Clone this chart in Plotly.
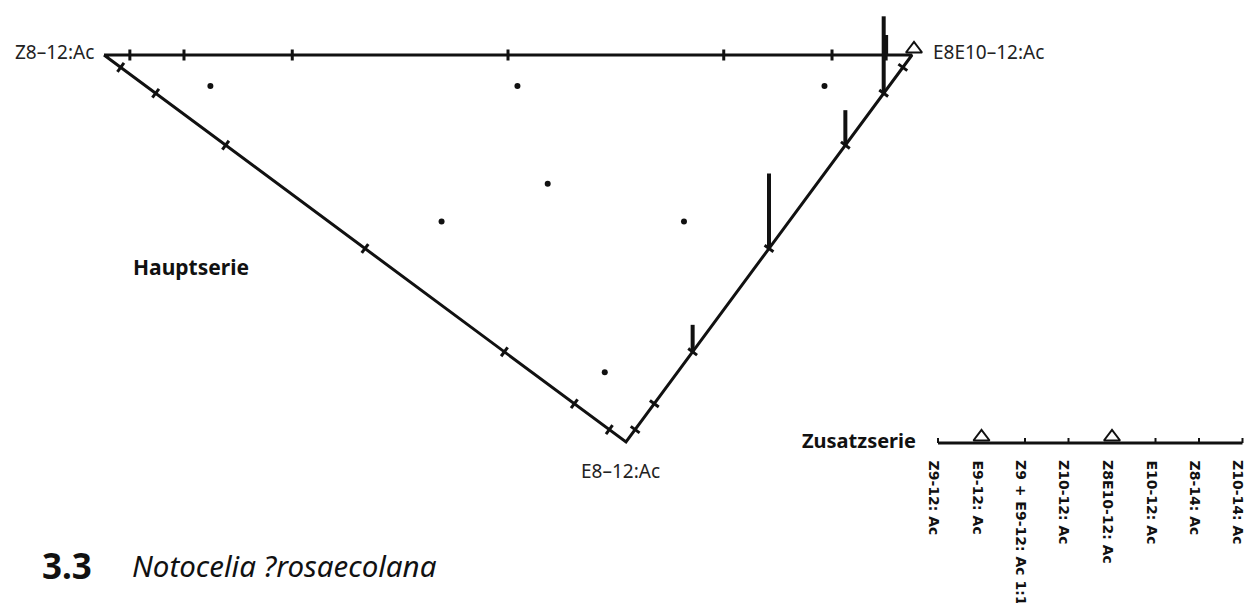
import plotly.graph_objects as go
import numpy as np

# ---------------- data ----------------
VERTEX_LABELS = ["Z8–12:Ac", "E8E10–12:Ac", "E8–12:Ac"]
# tick positions along every edge (fraction of edge length)
EDGE_TICKS = [0.032, 0.099, 0.233, 0.50, 0.767, 0.901, 0.968]
# test blends of the main series: shares of (Z8-12, E8E10-12, E8-12)
BLEND_A = [0.84, 0.46, 0.08, 0.333, 0.43, 0.13, 0.09]
BLEND_B = [0.08, 0.46, 0.84, 0.334, 0.14, 0.44, 0.09]
BLEND_C = [0.08, 0.08, 0.08, 0.333, 0.43, 0.43, 0.82]
# catch bars: edge, position along edge, catch value
BAR_EDGE = ["CB", "CB", "CB", "CB", "AB"]
BAR_POS = [0.233, 0.50, 0.767, 0.901, 0.968]
BAR_VALUE = [27, 75, 35, 77, 20]
# catches at pure vertex E8E10-12 (triangle)
VERTEX_HIT = [False, True, False]
# additional series
ZUS_LABELS = ["Z9-12: Ac", "E9-12: Ac", "Z9 + E9-12: Ac 1:1", "Z10-12: Ac",
              "Z8E10-12: Ac", "E10-12: Ac", "Z8-14: Ac", "Z10-14: Ac"]
ZUS_HIT = [False, True, False, False, True, False, False, False]

# ---------------- layout geometry (pixel-like data space) ----------------
VA = np.array([104.0, 55.0])
VB = np.array([912.0, 55.0])
VC = np.array([626.0, 442.0])
VERT = {"A": VA, "B": VB, "C": VC}
TICK_HALF = 5.5
BAR_SCALE = 1.0
ZUS_Y = 443.0
ZUS_X0 = 938.0
ZUS_STEP = 43.5

BLACK = "#111111"
fig = go.Figure()


def edge_pts(p, q, t):
    return p + (q - p) * t


# triangle outline
tri = np.array([VA, VB, VC, VA])
fig.add_trace(go.Scatter(x=tri[:, 0], y=tri[:, 1], mode="lines",
                         line=dict(color=BLACK, width=3), hoverinfo="skip",
                         showlegend=False))

# ticks on edges
tx, ty = [], []
for p, q in [(VA, VB), (VA, VC), (VC, VB)]:
    d = (q - p) / np.linalg.norm(q - p)
    n = np.array([-d[1], d[0]])
    for t in EDGE_TICKS:
        c = edge_pts(p, q, t)
        a = c - n * TICK_HALF
        b = c + n * TICK_HALF
        tx += [a[0], b[0], None]
        ty += [a[1], b[1], None]
fig.add_trace(go.Scatter(x=tx, y=ty, mode="lines",
                         line=dict(color=BLACK, width=3), hoverinfo="skip",
                         showlegend=False))

# blend dots
pts = (np.outer(BLEND_A, VA) + np.outer(BLEND_B, VB) + np.outer(BLEND_C, VC)) / \
      (np.array(BLEND_A) + np.array(BLEND_B) + np.array(BLEND_C))[:, None]
fig.add_trace(go.Scatter(x=pts[:, 0], y=pts[:, 1], mode="markers",
                         marker=dict(color=BLACK, size=6), showlegend=False))

# catch bars
bx, by = [], []
for e, t, v in zip(BAR_EDGE, BAR_POS, BAR_VALUE):
    p, q = VERT[e[0]], VERT[e[1]]
    c = edge_pts(p, q, t)
    bx += [c[0], c[0], None]
    by += [c[1], c[1] - v * BAR_SCALE, None]
fig.add_trace(go.Scatter(x=bx, y=by, mode="lines",
                         line=dict(color=BLACK, width=4), hoverinfo="skip",
                         showlegend=False))

# vertex triangle markers
vx = [v[0] + 2 for v, h in zip([VA, VB, VC], VERTEX_HIT) if h]
vy = [v[1] - 6 for v, h in zip([VA, VB, VC], VERTEX_HIT) if h]
fig.add_trace(go.Scatter(x=vx, y=vy, mode="markers",
                         marker=dict(symbol="triangle-up-open", size=14,
                                     color=BLACK,
                                     line=dict(color=BLACK, width=2)),
                         showlegend=False))

# additional series axis
zx = [ZUS_X0 + ZUS_STEP * i for i in range(len(ZUS_LABELS))]
fig.add_trace(go.Scatter(x=[zx[0], zx[-1]], y=[ZUS_Y, ZUS_Y], mode="lines",
                         line=dict(color=BLACK, width=3), showlegend=False,
                         hoverinfo="skip"))
kx, ky = [], []
for x, h in zip(zx, ZUS_HIT):
    if not h:
        kx += [x, x, None]
        ky += [ZUS_Y, ZUS_Y - 5, None]
fig.add_trace(go.Scatter(x=kx, y=ky, mode="lines",
                         line=dict(color=BLACK, width=2), showlegend=False,
                         hoverinfo="skip"))
fig.add_trace(go.Scatter(x=[x for x, h in zip(zx, ZUS_HIT) if h],
                         y=[ZUS_Y - 6 for h in ZUS_HIT if h], mode="markers",
                         marker=dict(symbol="triangle-up-open", size=14,
                                     color=BLACK,
                                     line=dict(color=BLACK, width=2)),
                         showlegend=False))

ann = []
for x, lab in zip(zx, ZUS_LABELS):
    ann.append(dict(x=x, y=458, xref="x", yref="y", text=lab, showarrow=False,
                    textangle=90, xanchor="center", yanchor="top", xshift=-4,
                    font=dict(family="DejaVu Sans", size=14, color=BLACK,
                              weight="bold")))

REG = dict(family="Noto Sans", size=19, color="#222222")
ann += [
    dict(x=VA[0] - 8, y=VA[1] - 3, text=VERTEX_LABELS[0], xanchor="right",
         yanchor="middle", font=REG),
    dict(x=VB[0] + 19, y=VB[1] - 3, text=VERTEX_LABELS[1], xanchor="left",
         yanchor="middle", font=REG),
    dict(x=VC[0] - 6, y=VC[1] + 29, text=VERTEX_LABELS[2], xanchor="center",
         yanchor="middle", font=REG),
    dict(x=131, y=267, text="<b>Hauptserie</b>", xanchor="left",
         yanchor="middle", font=dict(family="Noto Sans", size=21, color=BLACK)),
    dict(x=800, y=440, text="<b>Zusatzserie</b>", xanchor="left",
         yanchor="middle", font=dict(family="Noto Sans", size=20, color=BLACK)),
    dict(x=40, y=565, text="<b>3.3</b>", xanchor="left", yanchor="middle",
         font=dict(family="Noto Sans", size=35, color=BLACK)),
    dict(x=130, y=565, text="<i>Notocelia ?rosaecolana</i>", xanchor="left",
         yanchor="middle", font=dict(family="Noto Sans", size=29.5, color=BLACK)),
]
for a in ann:
    a.setdefault("xref", "x")
    a.setdefault("yref", "y")
    a.setdefault("showarrow", False)

fig.update_layout(
    width=1250, height=603,
    margin=dict(l=0, r=0, t=0, b=0),
    paper_bgcolor="white", plot_bgcolor="white",
    xaxis=dict(range=[0, 1250], visible=False, fixedrange=True),
    yaxis=dict(range=[603, 0], visible=False, fixedrange=True),
    annotations=ann,
    showlegend=False,
    hovermode=False,
)
fig.write_html("out.html",
               config={"displayModeBar": False, "staticPlot": True},
               post_script="document.body.style.margin='0';"
                           "document.body.style.overflow='hidden';")
